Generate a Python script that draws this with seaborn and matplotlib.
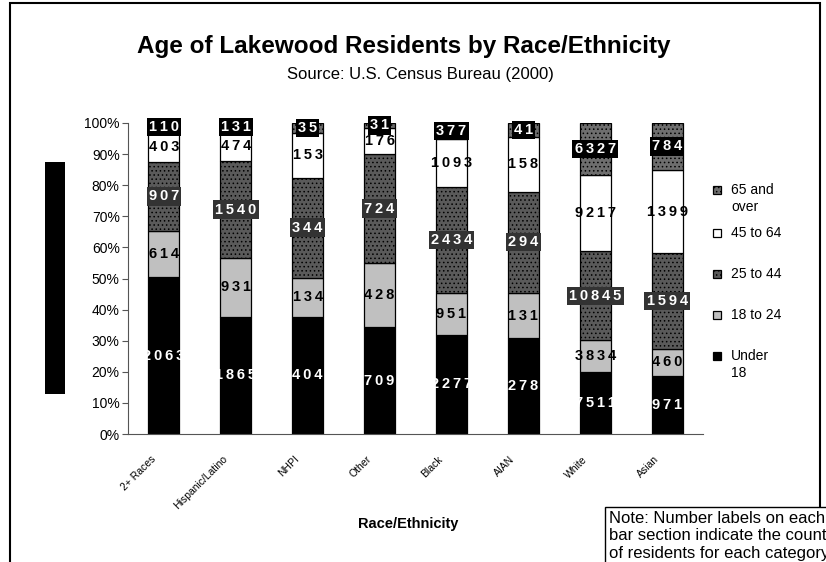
import numpy as np
import pandas as pd
import matplotlib
matplotlib.use("Agg")
import matplotlib.pyplot as plt
import matplotlib.transforms as mtransforms
from matplotlib.patches import Rectangle
import seaborn as sns

# Lakewood residents by race/ethnicity and age band (US Census 2000)
groups = ["2+ Races", "Hispanic/Latino", "NHPI", "Other", "Black", "AIAN", "White", "Asian"]
age_bands = ["Under 18", "18 to 24", "25 to 44", "45 to 64", "65 and over"]

under_18 = [2063, 1865, 404, 709, 2277, 278, 7511, 971]
age_18_24 = [614, 931, 134, 428, 951, 131, 3834, 460]
age_25_44 = [907, 1540, 344, 724, 2434, 294, 10845, 1594]
age_45_64 = [403, 474, 153, 176, 1093, 158, 9217, 1399]
age_65_up = [110, 131, 35, 31, 377, 41, 6327, 784]

# fill, hatch, label colour, label box colour
band_style = {
    "Under 18": ("black", None, "white", None),
    "18 to 24": ("#c0c0c0", None, "black", None),
    "25 to 44": ("#5a5a5a", "....", "white", "#333333"),
    "45 to 64": ("white", None, "black", None),
    "65 and over": ("#6e6e6e", "....", "white", "black"),
}

counts = pd.DataFrame(
    dict(zip(age_bands, [under_18, age_18_24, age_25_44, age_45_64, age_65_up])),
    index=groups,
)
shares = counts.div(counts.sum(axis=1), axis=0) * 100
bottoms = shares.cumsum(axis=1) - shares


def spaced(n):
    # Excel draws the digits wide apart
    return "\u2009".join(str(n))


sns.set_style("white")
plt.rcParams["font.family"] = ["Liberation Sans", "DejaVu Sans"]
plt.rcParams["hatch.linewidth"] = 0.6
for key in ["text.color", "xtick.color", "ytick.color", "axes.labelcolor"]:
    plt.rcParams[key] = "black"

W, H = 826, 562
fig = plt.figure(figsize=(W / 100, H / 100), dpi=100)
ax = fig.add_axes([128 / W, 1 - 434 / H, (703 - 128) / W, (434 - 123) / H])

for band in age_bands:
    fill, hatch, _, _ = band_style[band]
    sns.barplot(x=groups, y=shares[band].values, bottom=bottoms[band].values,
                color=fill, saturation=1, width=0.43, edgecolor="black",
                linewidth=0.9, hatch=hatch, ax=ax)

# count labels in the middle of each section
for band in age_bands:
    _, _, txt_col, box_col = band_style[band]
    mids = bottoms[band] + shares[band] / 2
    for i, g in enumerate(groups):
        kw = {}
        if box_col:
            kw["bbox"] = dict(boxstyle="square,pad=0.15", fc=box_col, ec="none")
        ax.text(i, mids[g], spaced(counts.loc[g, band]), ha="center", va="center",
                fontsize=10.5, fontweight="bold", color=txt_col, zorder=5, **kw)

ax.set_xlim(-0.5, len(groups) - 0.5)
ax.set_ylim(0, 100)
ax.set_yticks(np.arange(0, 101, 10))
ax.set_yticklabels([f"{v}%" for v in range(0, 101, 10)], fontsize=10)
ax.set_xticks(range(len(groups)))
ax.set_xticklabels(groups, rotation=45, ha="right", va="center",
                   rotation_mode="anchor", fontsize=7.5)
ax.set_xticks(np.arange(0.5, len(groups) - 0.5 + 0.01, 1), minor=True)
ax.tick_params(axis="x", which="major", length=0, pad=17)
ax.tick_params(axis="x", which="minor", length=4, width=0.8, color="#555555", direction="out")
ax.tick_params(axis="y", length=4, width=0.8, color="#555555", labelcolor="black",
               direction="out", left=True, pad=2)
offset = mtransforms.ScaledTranslation(-10 / 100, 0, fig.dpi_scale_trans)
for lbl in ax.get_xticklabels():
    lbl.set_transform(lbl.get_transform() + offset)
ax.set_xlabel("")
ax.set_ylabel("")
for side in ["top", "right"]:
    ax.spines[side].set_visible(False)
for side in ["left", "bottom"]:
    ax.spines[side].set_color("#555555")
    ax.spines[side].set_linewidth(0.8)

# titles and axis label
fig.text(404 / W, 1 - 47 / H, "Age of Lakewood Residents by Race/Ethnicity",
         ha="center", va="center", fontsize=17.5, fontweight="bold")
fig.text(420 / W, 1 - 75 / H, "Source: U.S. Census Bureau (2000)",
         ha="center", va="center", fontsize=12)
fig.text(408 / W, 1 - 524 / H, "Race/Ethnicity", ha="center", va="center",
         fontsize=10.5, fontweight="bold")

# legend, top to bottom
legend_rows = [("65 and over", "65 and\nover", 190), ("45 to 64", "45 to 64", 233),
               ("25 to 44", "25 to 44", 274), ("18 to 24", "18 to 24", 315),
               ("Under 18", "Under\n18", 356)]
for band, text, ypx in legend_rows:
    fill, hatch, _, _ = band_style[band]
    fig.add_artist(Rectangle((713 / W, 1 - (ypx + 4) / H), 8 / W, 8 / H,
                             transform=fig.transFigure, fc=fill, ec="black",
                             lw=0.9, hatch=hatch))
    fig.text(731 / W, 1 - (ypx - 7) / H, text, ha="left", va="top",
             fontsize=10, linespacing=1.25)

# black block left of the axis
fig.add_artist(Rectangle((45 / W, 1 - 394 / H), 20 / W, 232 / H,
                         transform=fig.transFigure, fc="black", ec="none"))

# chart border
fig.add_artist(Rectangle((10 / W, -0.02), 810 / W, 1.02 - 3 / H,
                         transform=fig.transFigure, fill=False, ec="black", lw=1.5))

# note box running off the edge, as in the source
fig.text(609 / W, 1 - 511 / H,
         "Note: Number labels on each\nbar section indicate the count\nof residents for each category.",
         ha="left", va="top", fontsize=12, linespacing=1.2,
         bbox=dict(boxstyle="square,pad=0.25", fc="white", ec="black", lw=1))

fig.savefig("out.png", dpi=100)
